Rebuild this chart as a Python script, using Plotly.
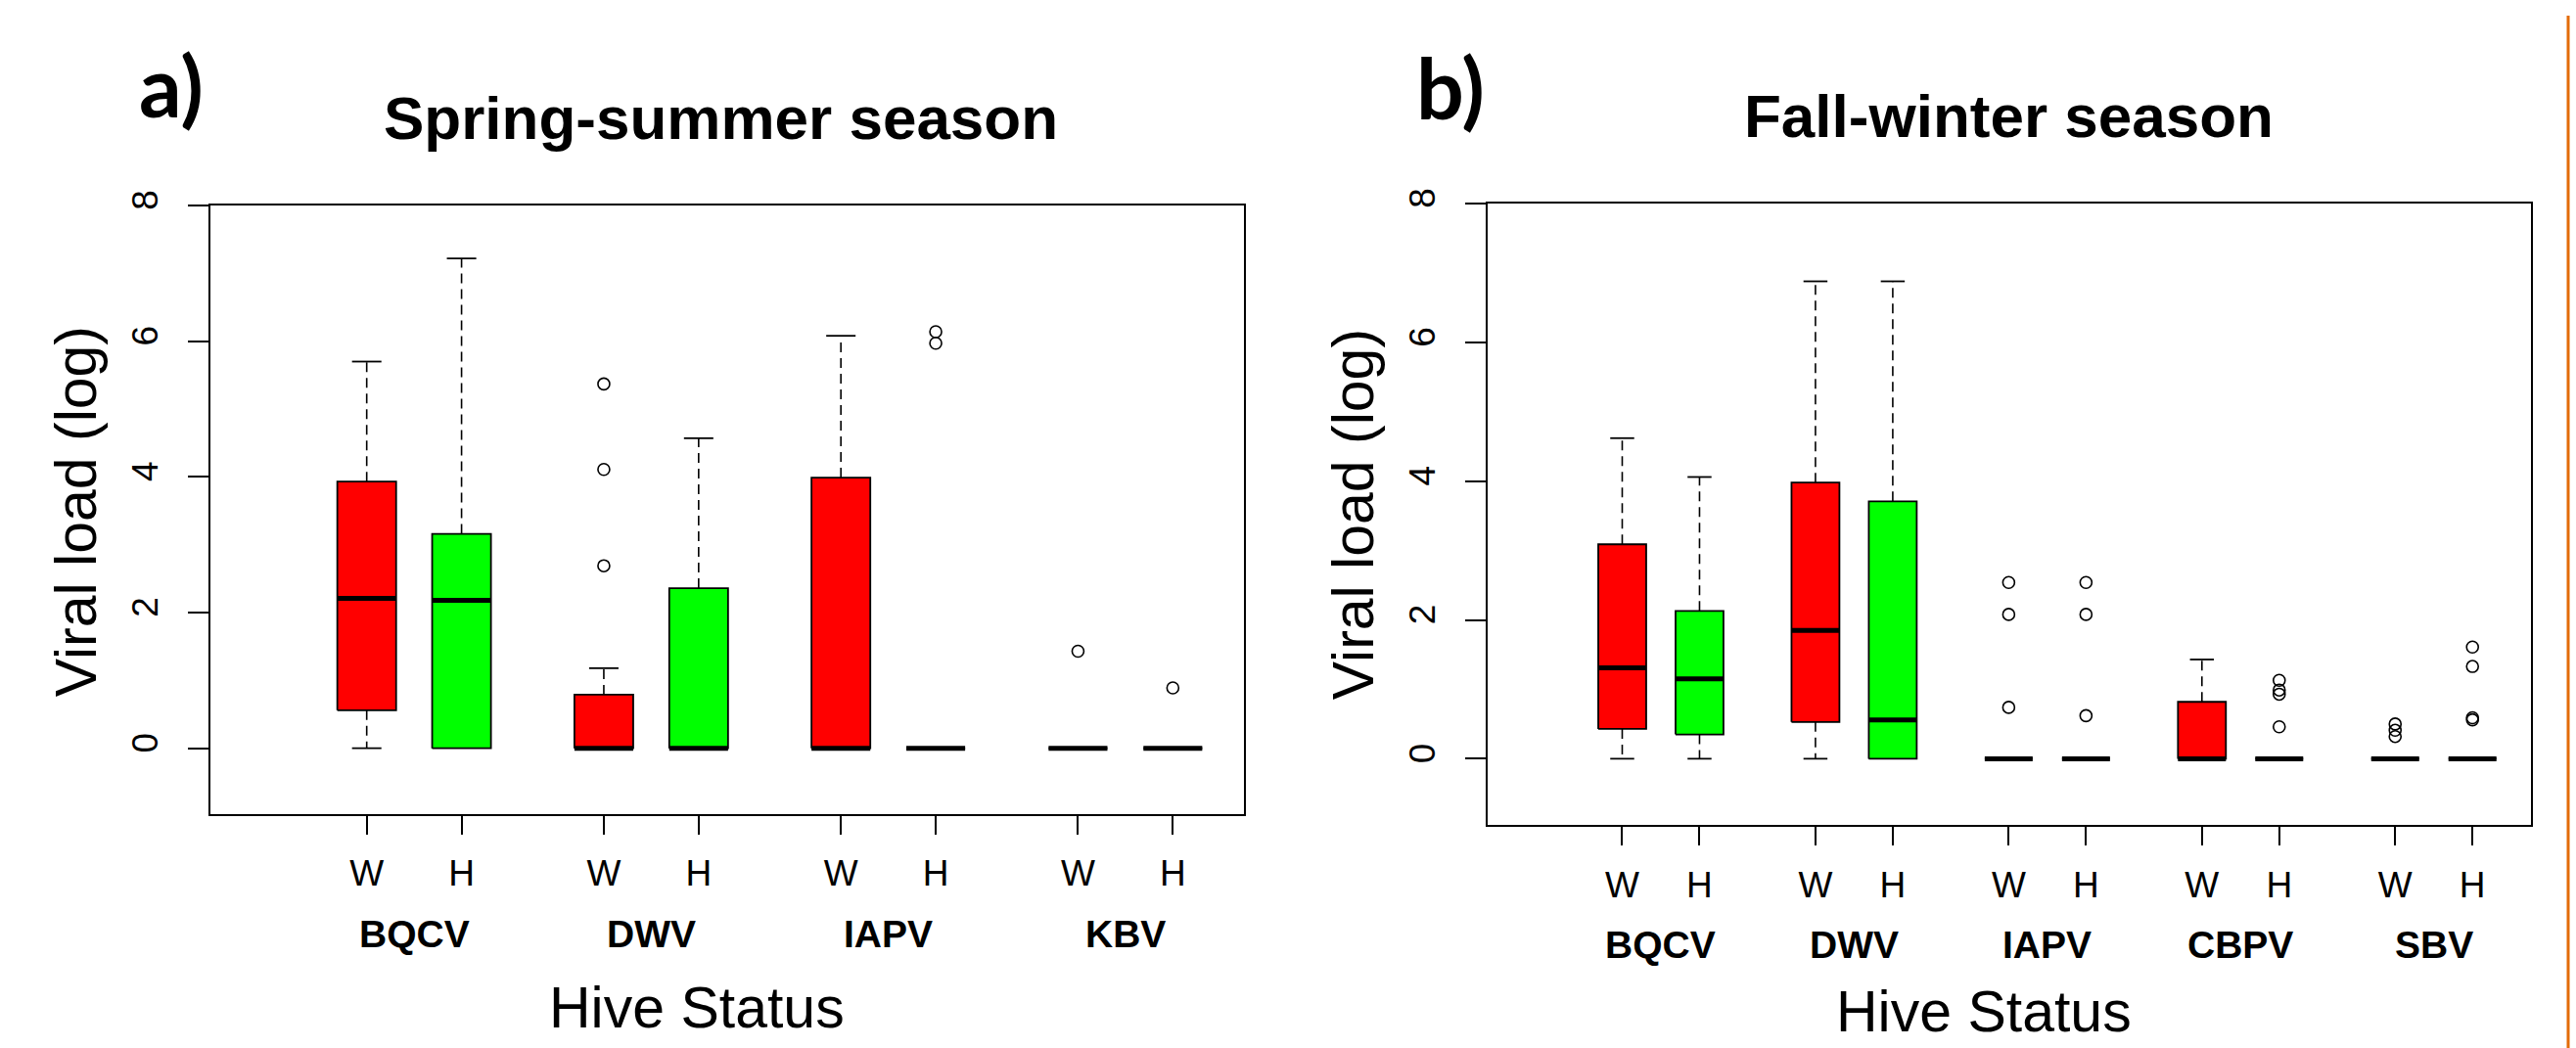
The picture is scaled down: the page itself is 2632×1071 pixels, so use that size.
import plotly.graph_objects as go

W_PX, H_PX = 2632, 1071

# ---------------- data ----------------
status_labels = ["W", "H"]
status_colors = ["#FF0000", "#00FF00"]

# a) Spring-summer season
ss_viruses = ["BQCV", "DWV", "IAPV", "KBV"]
ss_positions = [1, 2, 3.5, 4.5, 6, 7, 8.5, 9.5]
ss_lower = [0, 0, 0, 0, 0, 0, 0, 0]
ss_q1 = [0.56, 0, 0, 0, 0, 0, 0, 0]
ss_median = [2.21, 2.18, 0, 0, 0, 0, 0, 0]
ss_q3 = [3.93, 3.16, 0.79, 2.36, 3.99, 0, 0, 0]
ss_upper = [5.70, 7.22, 1.18, 4.57, 6.08, 0, 0, 0]
ss_outliers = [[], [], [5.37, 4.11, 2.69], [], [], [6.14, 5.97], [1.43], [0.89]]

# b) Fall-winter season
fw_viruses = ["BQCV", "DWV", "IAPV", "CBPV", "SBV"]
fw_positions = [1, 2, 3.5, 4.5, 6, 7, 8.5, 9.5, 11, 12]
fw_lower = [0, 0, 0, 0, 0, 0, 0, 0, 0, 0]
fw_q1 = [0.43, 0.35, 0.53, 0, 0, 0, 0, 0, 0, 0]
fw_median = [1.31, 1.15, 1.85, 0.56, 0, 0, 0, 0, 0, 0]
fw_q3 = [3.09, 2.13, 3.98, 3.71, 0, 0, 0.82, 0, 0, 0]
fw_upper = [4.62, 4.06, 6.88, 6.88, 0, 0, 1.43, 0, 0, 0]
fw_outliers = [[], [], [], [], [2.54, 2.08, 0.74], [2.54, 2.08, 0.62], [],
               [1.13, 0.99, 0.93, 0.46], [0.50, 0.41, 0.32], [1.61, 1.33, 0.59, 0.56]]

y_ticks = [0, 2, 4, 6, 8]

FONT = "Liberation Sans, Arial, sans-serif"
BOX_W = 0.62


def add_panel(fig, pos, lower, q1, med, q3, upper, outl, xa, ya):
    half = BOX_W / 2
    cap = BOX_W / 4
    wx, wy = [], []
    cx, cy = [], []
    for p, lo, a, b, hi in zip(pos, lower, q1, q3, upper):
        if hi > b:
            wx += [p, p, None]; wy += [b, hi, None]
            cx += [p - cap, p + cap, None]; cy += [hi, hi, None]
        if lo < a:
            wx += [p, p, None]; wy += [a, lo, None]
            cx += [p - cap, p + cap, None]; cy += [lo, lo, None]
    fig.add_trace(go.Scatter(x=wx, y=wy, mode="lines", xaxis=xa, yaxis=ya,
                             line=dict(color="black", width=1.6, dash="10px,6px"),
                             hoverinfo="skip", showlegend=False))
    fig.add_trace(go.Scatter(x=cx, y=cy, mode="lines", xaxis=xa, yaxis=ya,
                             line=dict(color="black", width=1.8),
                             hoverinfo="skip", showlegend=False))
    for i, (p, a, b) in enumerate(zip(pos, q1, q3)):
        col = status_colors[i % 2]
        fig.add_trace(go.Scatter(
            x=[p - half, p + half, p + half, p - half, p - half],
            y=[a, a, b, b, a], mode="lines", fill="toself", fillcolor=col,
            xaxis=xa, yaxis=ya, line=dict(color="black", width=1.8),
            name=status_labels[i % 2], showlegend=False))
    mx, my = [], []
    for p, m in zip(pos, med):
        mx += [p - half, p + half, None]; my += [m, m, None]
    fig.add_trace(go.Scatter(x=mx, y=my, mode="lines", xaxis=xa, yaxis=ya,
                             line=dict(color="black", width=5),
                             hoverinfo="skip", showlegend=False))
    ox, oy = [], []
    for p, vals in zip(pos, outl):
        for v in vals:
            ox.append(p); oy.append(v)
    fig.add_trace(go.Scatter(x=ox, y=oy, mode="markers", xaxis=xa, yaxis=ya,
                             marker=dict(symbol="circle-open", size=12, color="black",
                                         line=dict(width=1.6, color="black")),
                             showlegend=False))


fig = go.Figure()
add_panel(fig, ss_positions, ss_lower, ss_q1, ss_median, ss_q3, ss_upper, ss_outliers, "x", "y")
add_panel(fig, fw_positions, fw_lower, fw_q1, fw_median, fw_q3, fw_upper, fw_outliers, "x2", "y2")


def xaxis_cfg(dom_px, rng, positions, anchor):
    return dict(domain=[dom_px[0] / W_PX, dom_px[1] / W_PX], range=rng, anchor=anchor,
                tickvals=positions,
                ticktext=[status_labels[i % 2] for i in range(len(positions))],
                ticks="outside", ticklen=19, tickwidth=1.8, tickcolor="black",
                showline=True, mirror=True, linecolor="black", linewidth=1.8,
                showgrid=False, zeroline=False, ticklabelstandoff=8,
                tickfont=dict(family=FONT, size=37, color="black"))


def yaxis_cfg(dom_px, rng, anchor):
    return dict(domain=[1 - dom_px[1] / H_PX, 1 - dom_px[0] / H_PX], range=rng, anchor=anchor,
                tickvals=y_ticks, ticktext=[str(t) for t in y_ticks], tickangle=-90,
                ticks="outside", ticklen=21, tickwidth=1.8, tickcolor="black",
                showline=True, mirror=True, linecolor="black", linewidth=1.8,
                showgrid=False, zeroline=False, ticklabelstandoff=16,
                tickfont=dict(family=FONT, size=37, color="black"))


annotations = []


def group_labels(viruses, positions, xref, ypx):
    for i, v in enumerate(viruses):
        xm = (positions[2 * i] + positions[2 * i + 1]) / 2
        annotations.append(dict(x=xm, xref=xref, y=1 - ypx / H_PX, yref="paper",
                                text=v, showarrow=False, xanchor="center", yanchor="middle",
                                font=dict(family=FONT, size=39, color="black", weight="bold")))


group_labels(ss_viruses, ss_positions, "x", 953)
group_labels(fw_viruses, fw_positions, "x2", 964)


def txt(xpx, ypx, text, size, bold=False, angle=0, family=FONT):
    annotations.append(dict(x=xpx / W_PX, y=1 - ypx / H_PX, xref="paper", yref="paper",
                            text=text, showarrow=False, xanchor="center", yanchor="middle",
                            textangle=angle,
                            font=dict(family=family, size=size, color="black",
                                      weight="bold" if bold else "normal")))


txt(712, 1029, "Hive Status", 59)
txt(2027, 1033, "Hive Status", 59)
txt(736, 106, "Spring-summer season", 62, bold=True)
txt(2052, 104, "Fall-winter season", 62, bold=True)
txt(78, 515, "Viral load (log)", 59, angle=-90)
txt(1383, 518, "Viral load (log)", 59, angle=-90)
txt(175, 72, "a)", 86, bold=True, family="Lato, Open Sans, sans-serif")
txt(1482, 74, "b)", 86, bold=True, family="Lato, Open Sans, sans-serif")

fig.update_layout(
    width=W_PX, height=H_PX, autosize=False,
    margin=dict(l=0, r=0, t=0, b=0),
    paper_bgcolor="white", plot_bgcolor="white",
    showlegend=False,
    xaxis=xaxis_cfg((215, 1271), [-0.648, 10.25], ss_positions, "y"),
    yaxis=yaxis_cfg((197, 828), [-0.966, 8], "x"),
    xaxis2=xaxis_cfg((1520, 2586), [-0.741, 12.757], fw_positions, "y2"),
    yaxis2=yaxis_cfg((195, 840), [-0.96, 8], "x2"),
    annotations=annotations,
    shapes=[dict(type="line", xref="paper", yref="paper", x0=2624 / W_PX, x1=2624 / W_PX,
                 y0=0, y1=1, line=dict(color="#E36C09", width=3))],
)

# pin the figure to the page's top-left corner (no body margin)
pin_js = ("document.body.style.margin='0';document.body.style.overflow='hidden';"
          "var d=document.getElementById('{plot_id}');"
          "d.style.position='fixed';d.style.left='0px';d.style.top='0px';")

fig.write_html("out.html", post_script=pin_js, config={"displayModeBar": False})
